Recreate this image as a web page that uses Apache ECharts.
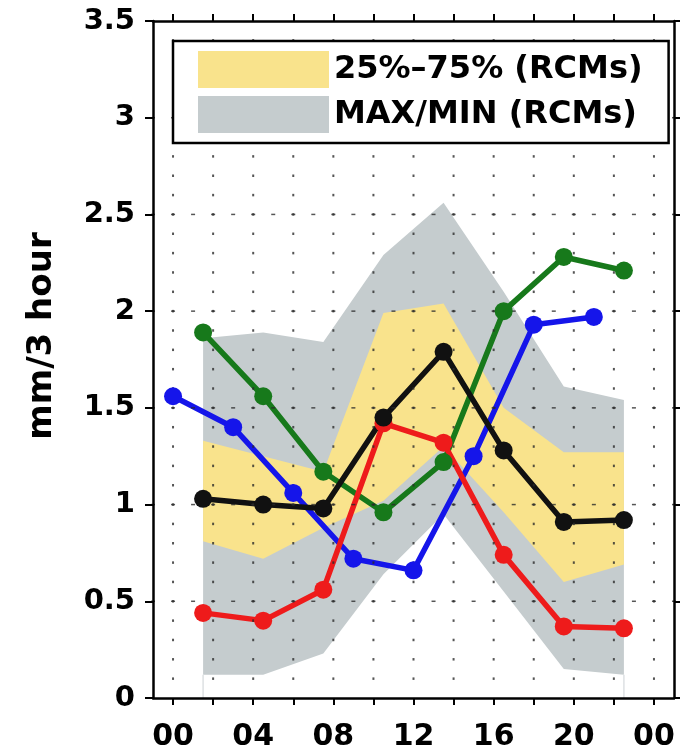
<!DOCTYPE html>
<html>
<head>
<meta charset="utf-8">
<script src="https://cdn.jsdelivr.net/npm/echarts@6.0.0/dist/echarts.min.js"></script>
<style>
  html, body { margin: 0; padding: 0; background: #fff; }
  #chart { width: 688px; height: 755px; }
</style>
</head>
<body>
<div id="chart"></div>
<script>
// ---- data (hours of day, mm / 3 hour) ----
const hours3 = [1.5, 4.5, 7.5, 10.5, 13.5, 16.5, 19.5, 22.5];
const hoursBlue = [0, 3, 6, 9, 12, 15, 18, 21];

const greyMin = [0.12, 0.12, 0.23, 0.64, 0.95, 0.55, 0.15, 0.12];
const greyMax = [1.86, 1.89, 1.84, 2.29, 2.56, 2.10, 1.61, 1.54];
const yellowLow = [0.81, 0.72, 0.88, 1.02, 1.30, 0.96, 0.60, 0.69];
const yellowHigh = [1.33, 1.25, 1.17, 1.99, 2.04, 1.50, 1.27, 1.27];

const blackVals = [1.03, 1.00, 0.98, 1.45, 1.79, 1.28, 0.91, 0.92];
const redVals = [0.44, 0.40, 0.56, 1.42, 1.32, 0.74, 0.37, 0.36];
const greenVals = [1.89, 1.56, 1.17, 0.96, 1.22, 2.00, 2.28, 2.21];
const blueVals = [1.56, 1.40, 1.06, 0.72, 0.66, 1.25, 1.93, 1.97];

const xTickValues = [0, 2, 4, 6, 8, 10, 12, 14, 16, 18, 20, 22, 24];
const xLabelValues = [0, 4, 8, 12, 16, 20, 24];
const yGridValues = [0.5, 1, 1.5, 2, 2.5, 3];
const legendYellow = '25%\u201375% (RCMs)';
const legendGrey = 'MAX/MIN (RCMs)';
const yName = 'mm/3 hour';

// ---- styles ----
const FONT = 'DejaVu Sans';
const GREY = '#c5ccce';
const YELLOW = '#f9e38c';
const X_MIN = -1, X_MAX = 25, Y_MIN = 0, Y_MAX = 3.5;

function pairs(xs, ys) { return xs.map((x, i) => [x, ys[i]]); }

function bandSeries(lo, hi, color, name, edgeLines) {
  return {
    type: 'custom', name: name, coordinateSystem: 'cartesian2d',
    data: hours3.map((h, i) => [h, lo[i], hi[i]]),
    encode: { x: 0, y: [1, 2] }, itemStyle: { color: color }, silent: true, z: 1,
    renderItem: function (params, api) {
      if (params.dataIndex !== 0) return null;
      const top = hours3.map((h, i) => api.coord([h, hi[i]]));
      const bottom = hours3.map((h, i) => api.coord([h, lo[i]])).reverse();
      const children = [{ type: 'polygon', shape: { points: top.concat(bottom) },
        style: { fill: color, stroke: null } }];
      if (edgeLines) {
        const n = hours3.length - 1;
        [[hours3[0], lo[0]], [hours3[n], lo[n]]].forEach(p => {
          const a = api.coord(p), b = api.coord([p[0], Y_MIN]);
          children.push({ type: 'line', shape: { x1: a[0], y1: a[1], x2: b[0], y2: b[1] },
            style: { stroke: '#dde1e3', lineWidth: 1.5 } });
        });
      }
      return { type: 'group', children: children };
    }
  };
}

// background dot grid (decoration): dots on the 2-hour columns, short dashes on the 0.5 levels
const dotPositions = [];
xTickValues.forEach(x => {
  for (let k = 1; k <= 34; k++) dotPositions.push([x, k / 10]);
});
const dashPositions = [];
yGridValues.forEach(y => {
  for (let h = -1; h <= 25; h++) dashPositions.push([h, y]);
});

function markSeries(name, data, size) {
  return { type: 'scatter', name: name, data: data, symbol: 'rect', symbolSize: size,
    itemStyle: { color: '#2a2a2a' }, silent: true, z: 5, clip: true };
}

function lineSeries(name, xs, ys, color) {
  return { type: 'line', name: name, data: pairs(xs, ys), symbol: 'circle', symbolSize: 18,
    lineStyle: { color: color, width: 5.5 }, itemStyle: { color: color }, z: 5, silent: true };
}

const axisLine = { show: true, onZero: false, lineStyle: { color: '#000', width: 2.5 } };

const chart = echarts.init(document.getElementById('chart'), null, { renderer: 'canvas' });
chart.setOption({
  animation: false,
  backgroundColor: '#fff',
  grid: { left: 153, top: 21, right: 14, bottom: 57, containLabel: false },
  legend: {
    data: [legendYellow, legendGrey],
    orient: 'vertical', left: 173, top: 41,
    padding: [10, 26, 10, 25],
    itemWidth: 131, itemHeight: 37, itemGap: 8,
    icon: 'rect', selectedMode: false,
    backgroundColor: '#fff', borderColor: '#000', borderWidth: 2.5,
    itemStyle: { borderWidth: 0 },
    textStyle: { fontFamily: FONT, fontWeight: 'bold', fontSize: 32, color: '#000', lineHeight: 36 },
    z: 10
  },
  graphic: [{
    type: 'text', x: 42, y: 336, rotation: Math.PI / 2,
    style: { text: yName, fontFamily: FONT, fontWeight: 'bold', fontSize: 34, fill: '#000',
      textAlign: 'center', textVerticalAlign: 'middle' },
    z: 10
  }],
  xAxis: [{
    type: 'value', min: X_MIN, max: X_MAX, position: 'bottom', z: 6,
    axisLine: axisLine,
    axisTick: { show: true, inside: false, length: 7, customValues: xTickValues,
      lineStyle: { color: '#000', width: 2 } },
    axisLabel: { show: true, customValues: xLabelValues, margin: 24,
      fontFamily: FONT, fontWeight: 'bold', fontSize: 30, color: '#000', lineHeight: 30,
      formatter: v => (v === 24 ? '00' : String(v).padStart(2, '0')) },
    splitLine: { show: false }
  }, {
    type: 'value', min: X_MIN, max: X_MAX, position: 'top', z: 6,
    axisLine: axisLine,
    axisTick: { show: true, inside: false, length: 7, customValues: xTickValues,
      lineStyle: { color: '#000', width: 2 } },
    axisLabel: { show: false },
    splitLine: { show: false }
  }],
  yAxis: [{
    type: 'value', min: Y_MIN, max: Y_MAX, interval: 0.5, position: 'left', z: 6,
    axisLine: axisLine,
    axisTick: { show: true, inside: false, length: 8, lineStyle: { color: '#000', width: 2 } },
    axisLabel: { margin: 18, fontFamily: FONT, fontWeight: 'bold', fontSize: 29, color: '#000' },
    splitLine: { show: false }
  }, {
    type: 'value', min: Y_MIN, max: Y_MAX, interval: 0.5, position: 'right', z: 6,
    axisLine: axisLine,
    axisTick: { show: true, inside: false, length: 6, lineStyle: { color: '#000', width: 2 } },
    axisLabel: { show: false },
    splitLine: { show: false }
  }],
  series: [
    bandSeries(greyMin, greyMax, GREY, legendGrey, true),
    bandSeries(yellowLow, yellowHigh, YELLOW, legendYellow, false),
    markSeries('_dots', dotPositions, [2, 2.5]),
    markSeries('_dashes', dashPositions, [4, 1.5]),
    lineSeries('blue', hoursBlue, blueVals, '#1515ea'),
    lineSeries('green', hours3, greenVals, '#17791b'),
    lineSeries('red', hours3, redVals, '#ee1b1b'),
    lineSeries('black', hours3, blackVals, '#111111')
  ]
});
</script>
</body>
</html>
